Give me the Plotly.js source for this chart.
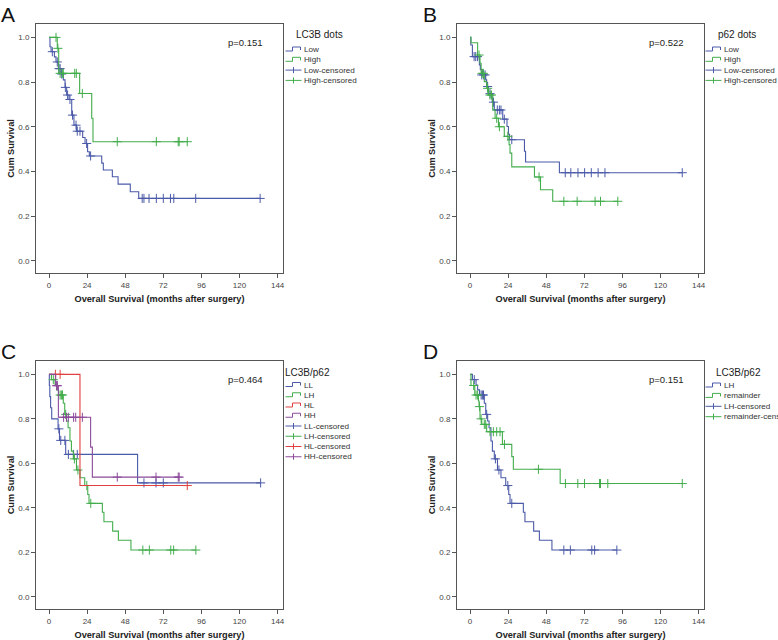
<!DOCTYPE html>
<html>
<head>
<meta charset="utf-8">
<script src="https://cdn.plot.ly/plotly-3.0.1.min.js"></script>
<style>body{margin:0;background:#fff;}#chart{width:778px;height:640px;}</style>
</head>
<body>
<div id="chart"></div>
<script>
// ---------------- DATA ----------------
// Panel A : LC3B dots
const aLowT = [0, 0.6, 1.3, 3.4, 4.4, 5.9, 7.6, 9.0, 10.1, 11.1, 12.6, 14.3, 15.7, 17.4, 21.2, 22.7, 24.3, 25.4, 33.2, 34.2, 39.9, 43.5, 51.2, 56.5, 133.0];
const aLowS = [1, 0.958, 0.936, 0.913, 0.89, 0.86, 0.836, 0.81, 0.776, 0.742, 0.722, 0.652, 0.607, 0.58, 0.552, 0.525, 0.488, 0.469, 0.437, 0.406, 0.376, 0.343, 0.309, 0.279, 0.279];
const aLowCensT = [2.1, 5.2, 6.3, 7.0, 8.0, 10.3, 11.7, 13.2, 14.8, 17.0, 17.8, 19.5, 23.7, 26.2, 58.7, 59.8, 63.0, 67.6, 72.0, 76.5, 78.6, 92.4, 133.0];
const aLowCensS = [0.936, 0.89, 0.86, 0.86, 0.836, 0.776, 0.742, 0.722, 0.652, 0.607, 0.58, 0.58, 0.525, 0.469, 0.279, 0.279, 0.279, 0.279, 0.279, 0.279, 0.279, 0.279, 0.279];
const aHighT = [0, 5.2, 6.1, 19.3, 26.9, 27.7, 87.1];
const aHighS = [1, 0.951, 0.839, 0.749, 0.638, 0.533, 0.533];
const aHighCensT = [4.4, 5.6, 7.0, 8.4, 9.0, 16.2, 17.2, 21.0, 43.0, 67.6, 81.4, 82.0, 87.1];
const aHighCensS = [1, 0.951, 0.839, 0.839, 0.839, 0.839, 0.839, 0.749, 0.533, 0.533, 0.533, 0.533, 0.533];

// Panel B : p62 dots
const bLowT = [0, 0.5, 1.5, 5.9, 6.5, 8.0, 9.9, 10.5, 11.6, 14.0, 15.3, 20.6, 23.3, 24.2, 24.9, 34.3, 35.0, 56.3, 133.7];
const bLowS = [1, 0.966, 0.914, 0.877, 0.855, 0.832, 0.81, 0.78, 0.748, 0.71, 0.675, 0.634, 0.601, 0.566, 0.542, 0.49, 0.442, 0.394, 0.394];
const bLowCensT = [2.6, 3.6, 4.7, 7.4, 8.6, 9.5, 11.1, 12.6, 14.8, 17.2, 18.5, 19.5, 21.6, 26.3, 60.0, 63.5, 68.0, 72.2, 76.4, 80.7, 85.0, 133.7];
const bLowCensS = [0.914, 0.914, 0.914, 0.832, 0.832, 0.832, 0.78, 0.748, 0.71, 0.675, 0.675, 0.675, 0.634, 0.542, 0.394, 0.394, 0.394, 0.394, 0.394, 0.394, 0.394, 0.394];
const bHighT = [0, 0.6, 4.8, 6.3, 7.0, 9.0, 10.5, 11.6, 14.3, 15.8, 17.9, 21.6, 24.6, 25.2, 26.3, 40.6, 44.4, 52.1, 93.1];
const bHighS = [1, 0.976, 0.921, 0.884, 0.839, 0.802, 0.772, 0.742, 0.675, 0.638, 0.6, 0.557, 0.52, 0.482, 0.42, 0.375, 0.318, 0.266, 0.266];
const bHighCensT = [5.7, 7.6, 8.4, 11.1, 12.6, 13.5, 16.8, 18.5, 23.8, 43.5, 59.1, 67.5, 78.8, 82.2, 93.1];
const bHighCensS = [0.921, 0.839, 0.839, 0.772, 0.742, 0.742, 0.638, 0.6, 0.557, 0.375, 0.266, 0.266, 0.266, 0.266, 0.266];

// Panel C : LC3B/p62 (LL, LH, HL, HH)
const cLLT = [0, 0.2, 0.5, 1.0, 1.7, 5.7, 6.6, 10.5, 55.8, 133.3];
const cLLS = [1, 0.95, 0.9, 0.85, 0.8, 0.755, 0.703, 0.64, 0.512, 0.512];
const cLLCensT = [6.2, 7.4, 10.0, 12.2, 15.5, 17.8, 59.8, 67.4, 72.0, 133.3];
const cLLCensS = [0.755, 0.703, 0.703, 0.64, 0.64, 0.64, 0.512, 0.512, 0.512, 0.512];
const lhT = [0, 1.5, 3.8, 4.8, 6.0, 9.0, 9.9, 11.1, 12.0, 13.2, 14.1, 15.3, 17.3, 19.5, 22.5, 24.4, 25.2, 33.6, 34.6, 40.1, 43.7, 51.6, 92.5];
const lhS = [1, 0.976, 0.952, 0.93, 0.907, 0.87, 0.82, 0.79, 0.76, 0.70, 0.655, 0.62, 0.57, 0.535, 0.50, 0.46, 0.42, 0.38, 0.337, 0.295, 0.254, 0.21, 0.21];
const lhCensT = [2.7, 7.0, 7.8, 8.5, 10.5, 16.0, 18.2, 23.8, 26.3, 59.1, 63.2, 76.7, 78.5, 92.5];
const lhCensS = [0.976, 0.907, 0.907, 0.907, 0.82, 0.62, 0.57, 0.50, 0.42, 0.21, 0.21, 0.21, 0.21, 0.21];
const cHLT = [0, 19.5, 87.1];
const cHLS = [1, 0.5, 0.5];
const cHLCensT = [4.0, 7.0, 87.1];
const cHLCensS = [1, 1, 0.5];
const cHHT = [0, 4.2, 5.9, 26.2, 27.3, 82.0];
const cHHS = [1, 0.949, 0.807, 0.673, 0.538, 0.538];
const cHHCensT = [4.8, 5.3, 9.2, 11.0, 12.2, 15.5, 16.8, 21.0, 43.0, 67.4, 81.4, 82.0];
const cHHCensS = [0.949, 0.949, 0.807, 0.807, 0.807, 0.807, 0.807, 0.807, 0.538, 0.538, 0.538, 0.538];

// Panel D : LC3B/p62 (LH vs remainder)
const dRemT = [0, 0.6, 3.0, 5.3, 5.7, 6.3, 7.4, 10.5, 20.4, 26.3, 27.3, 56.8, 133.7];
const dRemS = [1, 0.95, 0.907, 0.88, 0.855, 0.80, 0.775, 0.742, 0.685, 0.63, 0.573, 0.509, 0.509];
const dRemCensT = [2.3, 3.8, 4.8, 6.0, 7.0, 9.0, 9.9, 12.6, 14.7, 16.8, 18.9, 21.7, 43.1, 60.1, 67.9, 72.1, 81.6, 82.2, 86.8, 133.7];
const dRemCensS = [0.95, 0.907, 0.907, 0.855, 0.80, 0.775, 0.775, 0.742, 0.742, 0.742, 0.742, 0.685, 0.573, 0.509, 0.509, 0.509, 0.509, 0.509, 0.509, 0.509];

const panelLetters = ['A', 'B', 'C', 'D'];
const pValues = ['p=0.151', 'p=0.522', 'p=0.464', 'p=0.151'];
const legendTitles = ['LC3B dots', 'p62 dots', 'LC3B/p62', 'LC3B/p62'];
const namesA = ['Low', 'High'];
const namesB = ['Low', 'High'];
const namesC = ['LL', 'LH', 'HL', 'HH'];
const namesD = ['LH', 'remainder'];
const xTicks = [0, 24, 48, 72, 96, 120, 144];
const yTicks = [0, 0.2, 0.4, 0.6, 0.8, 1.0];
const xTitle = 'Overall Survival (months after surgery)';
const yTitle = 'Cum Survival';

// ---------------- STYLE ----------------
const W = 778, H = 640;
const FONT = 'Liberation Sans, Arial, sans-serif';
const BLUE = '#4b5aa8', GREEN = '#43ad4c', RED = '#e0403f', PURPLE = '#8c4a9a';
const px = v => v / W;
const py = v => 1 - v / H;

const boxes = [
  {l: 36, r: 283, t: 24, b: 273},
  {l: 457, r: 704, t: 24, b: 273},
  {l: 36, r: 283, t: 361, b: 609},
  {l: 457, r: 704, t: 361, b: 609}
];

const traces = [];
function addKM(ax, name, color, T, S, CT, CS) {
  traces.push({x: T, y: S, type: 'scatter', mode: 'lines', name: name,
    xaxis: 'x' + ax, yaxis: 'y' + ax, line: {color: color, width: 1.1, shape: 'hv'},
    hoverinfo: 'x+y', showlegend: false});
  traces.push({x: CT, y: CS, type: 'scatter', mode: 'markers', name: name + '-censored',
    xaxis: 'x' + ax, yaxis: 'y' + ax,
    marker: {symbol: 'cross-thin', size: 6.5, color: color, line: {color: color, width: 1}},
    hoverinfo: 'x+y', showlegend: false});
}
addKM('', namesA[0], BLUE, aLowT, aLowS, aLowCensT, aLowCensS);
addKM('', namesA[1], GREEN, aHighT, aHighS, aHighCensT, aHighCensS);
addKM('2', namesB[0], BLUE, bLowT, bLowS, bLowCensT, bLowCensS);
addKM('2', namesB[1], GREEN, bHighT, bHighS, bHighCensT, bHighCensS);
addKM('3', namesC[0], BLUE, cLLT, cLLS, cLLCensT, cLLCensS);
addKM('3', namesC[1], GREEN, lhT, lhS, lhCensT, lhCensS);
addKM('3', namesC[2], RED, cHLT, cHLS, cHLCensT, cHLCensS);
addKM('3', namesC[3], PURPLE, cHHT, cHHS, cHHCensT, cHHCensS);
addKM('4', namesD[0], BLUE, lhT, lhS, lhCensT, lhCensS);
addKM('4', namesD[1], GREEN, dRemT, dRemS, dRemCensT, dRemCensS);

const layout = {
  width: W, height: H,
  margin: {l: 0, r: 0, t: 0, b: 0, pad: 0},
  paper_bgcolor: '#fff', plot_bgcolor: '#fff',
  showlegend: false,
  font: {family: FONT, color: '#333'},
  annotations: [], shapes: []
};

boxes.forEach((bx, i) => {
  const s = i === 0 ? '' : String(i + 1);
  layout['xaxis' + s] = {
    domain: [px(bx.l), px(bx.r)], anchor: 'y' + s, range: [-8.2, 147.4],
    tickvals: xTicks, ticktext: xTicks.map(String),
    showline: true, mirror: true, linecolor: '#555', linewidth: 1,
    ticks: 'outside', ticklen: 4, tickwidth: 1, tickcolor: '#555',
    showgrid: false, zeroline: false,
    tickfont: {family: FONT, size: 8, color: '#444'},
    title: {text: '<b>' + xTitle + '</b>', font: {family: FONT, size: 9.2, color: '#222'}, standoff: 6}
  };
  layout['yaxis' + s] = {
    domain: [py(bx.b), py(bx.t)], anchor: 'x' + s, range: [-0.055, 1.06],
    tickvals: yTicks, tickformat: '.1f',
    showline: true, mirror: true, linecolor: '#555', linewidth: 1,
    ticks: 'outside', ticklen: 4, tickwidth: 1, tickcolor: '#555',
    showgrid: false, zeroline: false,
    tickfont: {family: FONT, size: 8, color: '#444'},
    title: {text: '<b>' + yTitle + '</b>', font: {family: FONT, size: 9.2, color: '#222'}, standoff: 2}
  };
  // panel letter
  layout.annotations.push({xref: 'paper', yref: 'paper', x: px(i % 2 === 0 ? -1 : 421), y: py(i < 2 ? 1 : 338),
    xanchor: 'left', yanchor: 'top', text: panelLetters[i], showarrow: false,
    font: {family: FONT, size: 21, color: '#111'}});
  // p value
  layout.annotations.push({xref: 'x' + s, yref: 'y' + s, x: 124, y: 0.975,
    xanchor: 'center', yanchor: 'middle', text: pValues[i], showarrow: false,
    font: {family: FONT, size: 9.5, color: '#222'}});
});

// manual legends (compact SPSS style)
function addLegend(titleText, titleCx, titleCy, x0, y0, dy, items) {
  layout.annotations.push({xref: 'paper', yref: 'paper', x: px(titleCx), y: py(titleCy),
    xanchor: 'center', yanchor: 'middle', text: titleText, showarrow: false,
    font: {family: FONT, size: 10, color: '#222'}});
  items.forEach((it, k) => {
    const yc = y0 + k * dy;
    if (it.kind === 'step') {
      const p = [[x0, yc + 1.5], [x0 + 7, yc + 1.5], [x0 + 7, yc - 2.5], [x0 + 15, yc - 2.5], [x0 + 15, yc + 0.5]];
      const path = 'M' + p.map(q => px(q[0]) + ',' + py(q[1])).join(' L');
      layout.shapes.push({type: 'path', xref: 'paper', yref: 'paper', path: path,
        line: {color: it.color, width: 1}});
    } else {
      layout.shapes.push({type: 'line', xref: 'paper', yref: 'paper', x0: px(x0), x1: px(x0 + 16), y0: py(yc), y1: py(yc),
        line: {color: it.color, width: 1}});
      layout.shapes.push({type: 'line', xref: 'paper', yref: 'paper', x0: px(x0 + 8), x1: px(x0 + 8), y0: py(yc - 3), y1: py(yc + 3),
        line: {color: it.color, width: 1}});
    }
    layout.annotations.push({xref: 'paper', yref: 'paper', x: px(x0 + 16.5), y: py(yc),
      xanchor: 'left', yanchor: 'middle', text: it.name, showarrow: false,
      font: {family: FONT, size: 8.1, color: '#333'}});
  });
}
function legendItems(names, colors) {
  return names.map((n, k) => ({name: n, color: colors[k], kind: 'step'}))
    .concat(names.map((n, k) => ({name: n + '-censored', color: colors[k], kind: 'cens'})));
}
addLegend(legendTitles[0], 319.5, 34.5, 285.5, 49.5, 10.3, legendItems(namesA, [BLUE, GREEN]));
addLegend(legendTitles[1], 736.5, 34.5, 705.5, 49.5, 10.3, legendItems(namesB, [BLUE, GREEN]));
addLegend(legendTitles[2], 307.5, 372, 285.5, 385, 10.25, legendItems(namesC, [BLUE, GREEN, RED, PURPLE]));
addLegend(legendTitles[3], 738.5, 372, 705.5, 385.5, 10.4, legendItems(namesD, [BLUE, GREEN]));

Plotly.newPlot('chart', traces, layout, {staticPlot: true, displayModeBar: false});
</script>
</body>
</html>
